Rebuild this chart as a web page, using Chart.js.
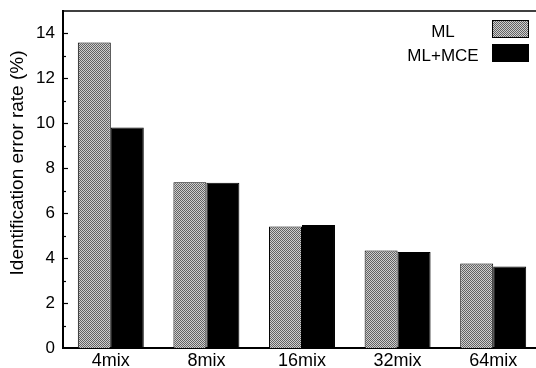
<!DOCTYPE html>
<html>
<head>
<meta charset="utf-8">
<script src="https://cdn.jsdelivr.net/npm/chart.js@4/dist/chart.umd.min.js"></script>
<style>
  html, body { margin: 0; padding: 0; background: #fff; overflow: hidden; }
  #wrap { position: absolute; left: 0; top: 0; width: 545px; height: 368px; }
</style>
</head>
<body>
<div id="wrap"><canvas id="chart"></canvas></div>
<script>
// dados
const categorias = ['4mix', '8mix', '16mix', '32mix', '64mix'];
const valoresML = [13.6, 7.38, 5.41, 4.34, 3.76];
const valoresMCE = [9.82, 7.35, 5.48, 4.27, 3.63];
const nomesSeries = ['ML', 'ML+MCE'];
const ticksY = [0, 2, 4, 6, 8, 10, 12, 14];
const tituloY = 'Identification error rate (%)';

const FONTE = '"Liberation Sans", Arial, Helvetica, sans-serif';

// padrão pontilhado cinza das barras ML
function criarPadrao() {
    const c = document.createElement('canvas');
    c.width = 4; c.height = 4;
    const g = c.getContext('2d');
    g.fillStyle = '#cfcfcf';
    g.fillRect(0, 0, 4, 4);
    g.fillStyle = '#626262';
    for (let y = 0; y < 4; y++) {
        for (let x = 0; x < 4; x++) {
            if ((x + y) % 2 === 0) g.fillRect(x, y, 1, 1);
        }
    }
    return g.createPattern(c, 'repeat');
}
const padraoML = criarPadrao();

// moldura de cima, ticks para dentro, título do eixo e legenda
const extras = {
    id: 'extras',
    afterDraw(chart) {
        const ctx = chart.ctx;
        const area = chart.chartArea;
        const y = chart.scales.y;
        ctx.save();
        ctx.strokeStyle = '#000';
        ctx.lineWidth = 1.5;
        ctx.beginPath();
        ctx.moveTo(area.left, area.top);
        ctx.lineTo(area.right, area.top);
        ctx.stroke();

        ctx.lineWidth = 1.2;
        for (let v = 1; v <= 14; v++) {
            const py = Math.round(y.getPixelForValue(v)) + 0.5;
            const len = (v % 2 === 0) ? 5 : 3;
            ctx.beginPath();
            ctx.moveTo(area.left, py);
            ctx.lineTo(area.left + len, py);
            ctx.stroke();
        }

        // título do eixo Y (um pouco acima do centro, como no original)
        ctx.save();
        ctx.translate(18, 163);
        ctx.rotate(-Math.PI / 2);
        ctx.font = '19px ' + FONTE;
        ctx.fillStyle = '#000';
        ctx.textAlign = 'center';
        ctx.textBaseline = 'middle';
        ctx.fillText(tituloY, 0, 0);
        ctx.restore();

        // legenda: texto à esquerda, caixa à direita
        const cores = [padraoML, '#000'];
        const yLinhas = [29, 53];
        ctx.font = '17px ' + FONTE;
        ctx.textAlign = 'center';
        ctx.textBaseline = 'middle';
        for (let i = 0; i < nomesSeries.length; i++) {
            ctx.fillStyle = '#000';
            ctx.fillText(nomesSeries[i], 443, yLinhas[i] + 3);
            ctx.fillStyle = cores[i];
            ctx.fillRect(492, yLinhas[i] - 9, 37, 18);
            ctx.strokeStyle = '#000';
            ctx.lineWidth = 1;
            ctx.strokeRect(492.5, yLinhas[i] - 8.5, 36, 17);
        }
        ctx.restore();
    }
};

new Chart(document.getElementById('chart'), {
    type: 'bar',
    data: {
        labels: categorias,
        datasets: [{
            label: nomesSeries[0],
            data: valoresML,
            backgroundColor: padraoML,
            borderColor: '#000',
            borderWidth: 1,
            barPercentage: 1,
            categoryPercentage: 0.69
        }, {
            label: nomesSeries[1],
            data: valoresMCE,
            backgroundColor: '#000',
            borderColor: '#000',
            borderWidth: 1,
            barPercentage: 1,
            categoryPercentage: 0.69
        }]
    },
    options: {
        responsive: true,
        maintainAspectRatio: false,
        animation: false,
        layout: { padding: { left: 0, top: 11, right: 4, bottom: 0 } },
        plugins: {
            legend: { display: false },
            tooltip: { enabled: false }
        },
        scales: {
            x: {
                grid: { display: false, drawTicks: false },
                border: { display: true, color: '#000', width: 2 },
                ticks: { color: '#000', font: { family: FONTE, size: 18 }, padding: 2, maxRotation: 0 },
                afterFit(s) { s.height = 20; s.paddingLeft = 0; s.paddingRight = 0; }
            },
            y: {
                min: 0,
                max: 15,
                grid: { display: false, drawTicks: false },
                border: { display: true, color: '#000', width: 2 },
                afterBuildTicks(s) { s.ticks = ticksY.map(v => ({ value: v })); },
                ticks: { color: '#000', font: { family: FONTE, size: 17 }, padding: 8 },
                afterFit(s) { s.width = 63; s.paddingTop = 0; s.paddingBottom = 0; }
            }
        }
    },
    plugins: [extras]
});
</script>
</body>
</html>
